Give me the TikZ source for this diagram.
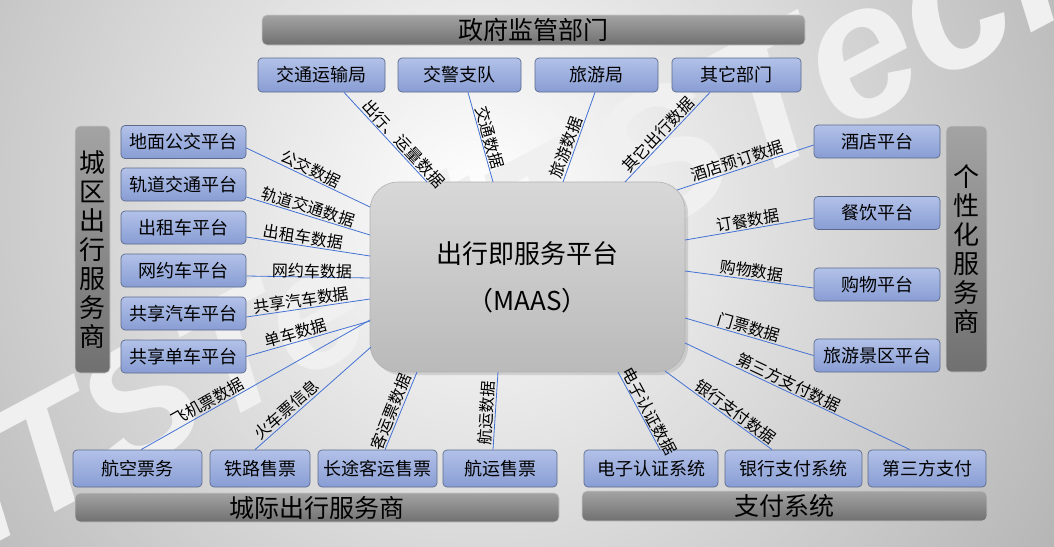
\documentclass[tikz,border=0pt]{standalone}
\usepackage{fontspec}
\setmainfont{Noto Sans CJK SC}
\newfontfamily\wmfont{Liberation Sans}
\usetikzlibrary{shadows,calc}
\definecolor{boxtop}{RGB}{178,193,232}
\definecolor{boxbot}{RGB}{136,157,212}
\definecolor{boxline}{RGB}{92,106,140}
\definecolor{connc}{RGB}{68,114,212}
\definecolor{midtop}{RGB}{216,216,216}
\definecolor{midbot}{RGB}{186,186,186}
\begin{document}
\begin{tikzpicture}[x=1pt,y=-1pt,
  box/.style={draw=boxline, line width=0.7pt, rounded corners=4pt, top color=boxtop, bottom color=boxbot, inner sep=0pt, font=\fontsize{18}{20}\selectfont},
  bar/.style={draw=black!22, line width=0.6pt, rounded corners=5pt, top color=black!36, bottom color=black!56, inner sep=0pt, font=\fontsize{25}{28}\selectfont},
  vbar/.style={bar, align=center, font=\fontsize{26}{29}\selectfont},
  midbox/.style={draw=black!30, line width=0.6pt, rounded corners=28pt, top color=midtop, bottom color=midbot, inner sep=0pt, align=center, font=\fontsize{26}{47}\selectfont, drop shadow={shadow xshift=3pt, shadow yshift=-3pt, opacity=0.25}},
  conn/.style={draw=connc, line width=0.8pt},
  lbl/.style={sloped, above, inner sep=1pt, font=\fontsize{16}{18}\selectfont},
  wmark/.style={font=\wmfont\bfseries\itshape\fontsize{165}{165}\selectfont, text=black!6, rotate=28, anchor=base west, inner sep=0pt}]

\useasboundingbox (0,0) rectangle (1054,546);
\begin{scope}
  \clip (0,0) rectangle (1054,546);
  \shade[inner color=white, outer color=black!30] (480,200) circle (700pt);
  \node[wmark] (wm1) at (-12,548) {iTSTech};
  \node[wmark, font=\wmfont\bfseries\itshape\fontsize{190}{190}\selectfont] (wm2) at (484,324) {iTSTech};
\end{scope}

% headers
\node[bar, minimum width=543pt, minimum height=30pt] (gov) at (533.5,30) {政府监管部门};
\node[bar, minimum width=484pt, minimum height=29pt] (inter) at (317,507.5) {城际出行服务商};
\node[bar, minimum width=405pt, minimum height=30pt] (pay) at (784.5,506) {支付系统};
\node[vbar, minimum width=35pt, minimum height=247pt] (city) at (92.5,249.5) {城\\区\\出\\行\\服\\务\\商};
\node[vbar, minimum width=41pt, minimum height=246pt] (pers) at (966.5,249) {个\\性\\化\\服\\务\\商};

% top boxes
\node[box, minimum width=127pt, minimum height=34pt] (jt) at (321.5,75) {交通运输局};
\node[box, minimum width=123pt, minimum height=34pt] (jj) at (459.5,75) {交警支队};
\node[box, minimum width=123pt, minimum height=34pt] (ly) at (596.5,75) {旅游局};
\node[box, minimum width=129pt, minimum height=34pt] (qt) at (736.5,75) {其它部门};

% left boxes
\node[box, minimum width=125pt, minimum height=33pt] (dm) at (183.5,142) {地面公交平台};
\node[box, minimum width=125pt, minimum height=33pt] (gd) at (183.5,184.5) {轨道交通平台};
\node[box, minimum width=125pt, minimum height=33pt] (cz) at (183.5,227.5) {出租车平台};
\node[box, minimum width=125pt, minimum height=33pt] (wy) at (183.5,270.5) {网约车平台};
\node[box, minimum width=125pt, minimum height=33pt] (gq) at (183.5,313.5) {共享汽车平台};
\node[box, minimum width=125pt, minimum height=33pt] (gdc) at (183.5,356.5) {共享单车平台};

% right boxes
\node[box, minimum width=126pt, minimum height=33pt] (jd) at (877,141.5) {酒店平台};
\node[box, minimum width=126pt, minimum height=33pt] (cy) at (877,213) {餐饮平台};
\node[box, minimum width=126pt, minimum height=33pt] (gw) at (877,284.5) {购物平台};
\node[box, minimum width=126pt, minimum height=33pt] (jq) at (877,355.5) {旅游景区平台};

% bottom boxes
\node[box, minimum width=129pt, minimum height=37pt] (hk) at (137.5,468.5) {航空票务};
\node[box, minimum width=100pt, minimum height=37pt] (tl) at (260,468.5) {铁路售票};
\node[box, minimum width=119pt, minimum height=37pt] (ct) at (377.5,468.5) {长途客运售票};
\node[box, minimum width=114pt, minimum height=37pt] (hy) at (500,468.5) {航运售票};
\node[box, minimum width=134pt, minimum height=37pt] (dz) at (651,468.5) {电子认证系统};
\node[box, minimum width=137pt, minimum height=37pt] (yh) at (793.5,468.5) {银行支付系统};
\node[box, minimum width=118pt, minimum height=37pt] (ds) at (927,468.5) {第三方支付};

% centre
\node[midbox, minimum width=315pt, minimum height=190pt] (mid) at (527.5,277) {\raisebox{-3pt}{出行即服务平台}\\\raisebox{-3pt}{（MAAS）}};

% connector ends on the centre box
\coordinate (cjt) at (427,182);
\coordinate (cjj) at (493,182);
\coordinate (cly) at (563,182);
\coordinate (cqt) at (625,182);
\coordinate (cdm) at (370,207);
\coordinate (cgd) at (370,235);
\coordinate (ccz) at (370,256);
\coordinate (cwy) at (370,278);
\coordinate (cgq) at (370,299);
\coordinate (cgdc) at (370,321);
\coordinate (chk) at (370,320);
\coordinate (ctl) at (371,347);
\coordinate (cct) at (417,372);
\coordinate (chy) at (498,372);
\coordinate (cdz) at (618,372);
\coordinate (cyh) at (665,371);
\coordinate (cds) at (685,343);
\coordinate (cjd) at (677,190);
\coordinate (ccy) at (685,240);
\coordinate (cgw) at (685,271);
\coordinate (cjq) at (685,318);

% connectors
\draw[conn] ([xshift=22.5pt]jt.south) -- node[lbl, pos=0.64] {出行、运量数据} (cjt);
\draw[conn] ([xshift=8.5pt]jj.south) -- node[lbl, pos=0.53] {交通数据} (cjj);
\draw[conn] ([xshift=-1.5pt]ly.south) -- node[lbl, pos=0.65] {旅游数据} (cly);
\draw[conn] ([xshift=-26.5pt]qt.south) -- node[lbl, pos=0.54] {其它出行数据} (cqt);

\draw[conn] ([yshift=-6pt]dm.east) -- node[lbl, pos=0.49] {公交数据} (cdm);
\draw[conn] ([yshift=-12.5pt]gd.east) -- node[lbl, pos=0.48] {轨道交通数据} (cgd);
\draw[conn] ([yshift=-9.5pt]cz.east) -- node[lbl, pos=0.45] {出租车数据} (ccz);
\draw[conn] ([yshift=-5.5pt]wy.east) -- node[lbl, pos=0.53, above=-3pt] {网约车数据} (cwy);
\draw[conn] ([yshift=-3.5pt]gq.east) -- node[lbl, pos=0.455] {共享汽车数据} (cgq);
\draw[conn] (gdc.east) -- node[lbl, pos=0.42] {单车数据} (cgdc);

\draw[conn] ([xshift=3.5pt]hk.north) -- node[lbl, pos=0.31] {飞机票数据} (chk);
\draw[conn] ([xshift=-5pt]tl.north) -- node[lbl, pos=0.325] {火车票信息} (ctl);
\draw[conn] ([xshift=7.5pt]ct.north) -- node[lbl, pos=0.445] {客运票数据} (cct);
\draw[conn] ([xshift=-7pt]hy.north) -- node[lbl, pos=0.46] {航运数据} (chy);
\draw[conn] ([xshift=9pt]dz.north) -- node[lbl, pos=0.44] {电子认证数据} (cdz);
\draw[conn] ([xshift=-21.5pt]yh.north) -- node[lbl, pos=0.39] {银行支付数据} (cyh);
\draw[conn] ([xshift=-17pt]ds.north) -- node[lbl, pos=0.556] {第三方支付数据} (cds);

\draw[conn] ([yshift=-3.5pt]jd.west) -- node[lbl, pos=0.54] {酒店预订数据} (cjd);
\draw[conn] ([yshift=-5pt]cy.west) -- node[lbl, pos=0.50] {订餐数据} (ccy);
\draw[conn] ([yshift=-3.5pt]gw.west) -- node[lbl, pos=0.49] {购物数据} (cgw);
\draw[conn] (jq.west) -- node[lbl, pos=0.52] {门票数据} (cjq);
\end{tikzpicture}
\end{document}
